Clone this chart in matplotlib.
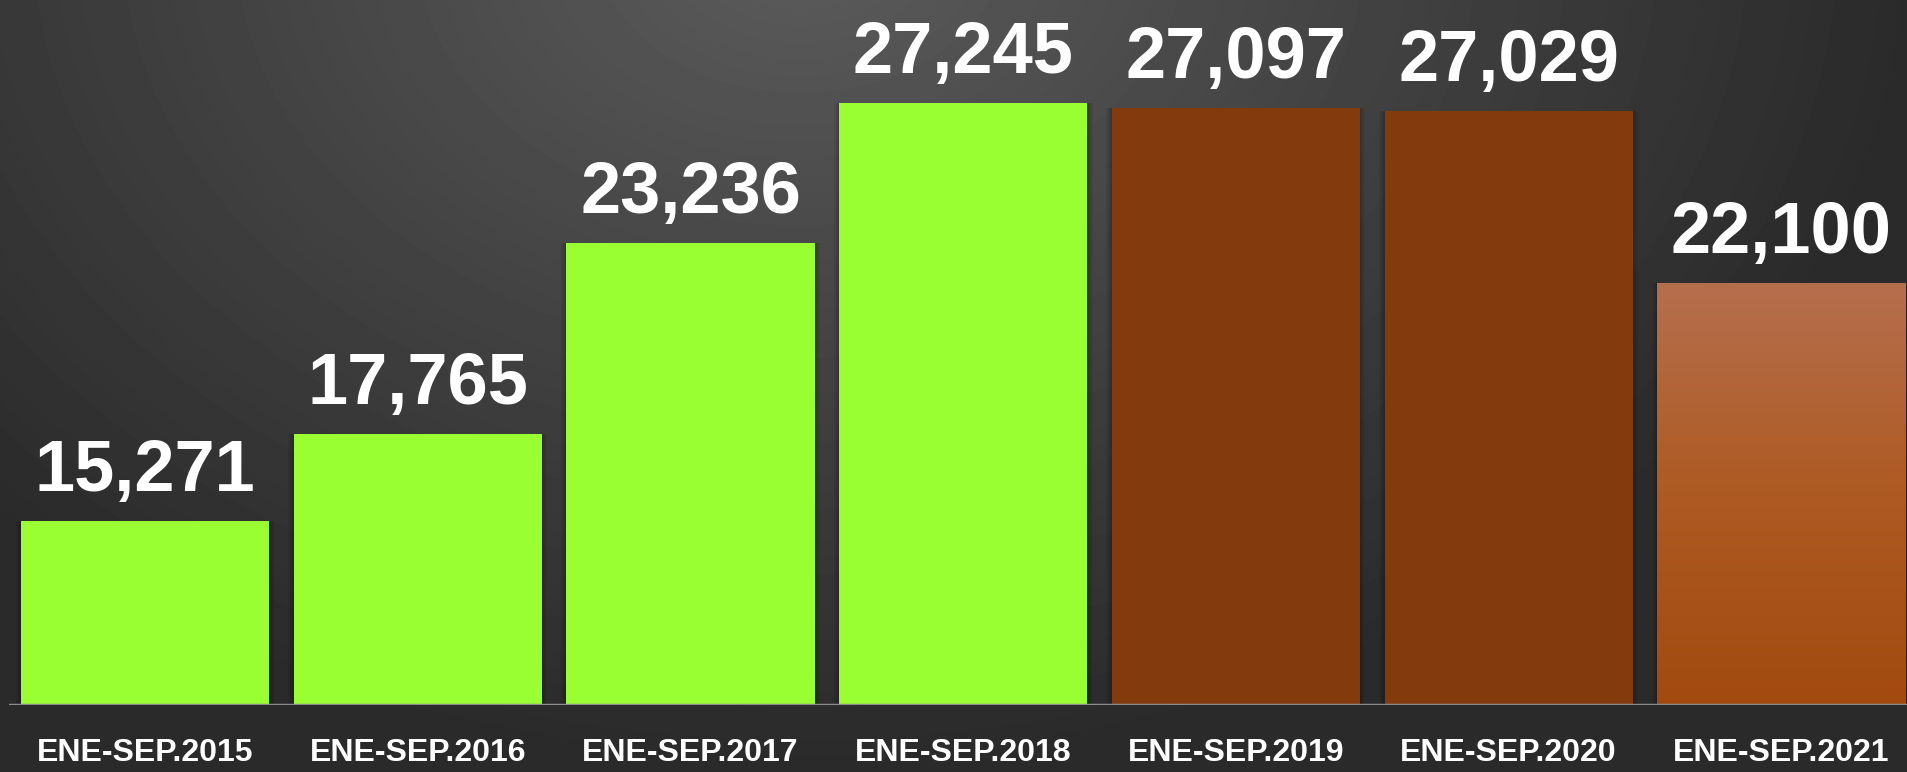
import numpy as np
import matplotlib
matplotlib.use("Agg")
import matplotlib.pyplot as plt
from matplotlib import font_manager as fm
from matplotlib.colors import LinearSegmentedColormap

# data
periods = ["ENE-SEP.2015", "ENE-SEP.2016", "ENE-SEP.2017", "ENE-SEP.2018",
           "ENE-SEP.2019", "ENE-SEP.2020", "ENE-SEP.2021"]
values = [15271, 17765, 23236, 27245, 27097, 27029, 22100]
bar_colors = ["#99FF33", "#99FF33", "#99FF33", "#99FF33",
              "#833A0D", "#833A0D", None]  # last one gets a gradient

# pick a narrow font if there is one
names = {f.name for f in fm.fontManager.ttflist}
if "Liberation Sans Narrow" in names:
    fam, val_size, tick_size = "Liberation Sans Narrow", 62, 27
else:
    fam, val_size, tick_size = "Liberation Sans", 52, 23

fig = plt.figure(figsize=(19.07, 7.72), dpi=100)

# dark radial background
bg = fig.add_axes([0, 0, 1, 1], zorder=-10)
yy, xx = np.mgrid[0:772, 0:1907]
r = np.sqrt(((xx - 800) / 1150.0) ** 2 + ((yy + 60) / 850.0) ** 2)
shade = np.clip(0.36 - 0.20 * r, 0.165, 0.36)
bg.imshow(shade, cmap="gray", vmin=0, vmax=1, aspect="auto", extent=[0, 1, 0, 1])
bg.axis("off")

ax = fig.add_axes([8.7 / 1907, 67 / 772, 1909 / 1907, 705 / 772])
ax.set_facecolor("none")
x = np.arange(len(values))

# soft shadow behind the bars
for w, a in [(0.95, 0.06), (0.935, 0.08), (0.92, 0.10)]:
    ax.bar(x, values, width=w, color="black", alpha=a, zorder=2, linewidth=0)

bars = ax.bar(x, values, width=0.91, color=[c if c else "none" for c in bar_colors],
              zorder=3, linewidth=0)

# gradient fill for the last bar
grad = LinearSegmentedColormap.from_list("g", ["#A24A10", "#AE5A22", "#B66F4E"])
b = bars[-1]
im = ax.imshow(np.linspace(0, 1, 256).reshape(-1, 1), cmap=grad, origin="lower",
               aspect="auto", zorder=3,
               extent=[b.get_x(), b.get_x() + b.get_width(), 10000, values[-1]])
im.set_clip_path(b)

ax.set_xlim(-0.5, len(values) - 0.5)
ax.set_ylim(10000, 30200)

for i, v in enumerate(values):
    ax.annotate(f"{v:,}", (i, v), xytext=(0, 21.6), textcoords="offset points",
                ha="center", va="baseline", color="white", fontsize=val_size,
                fontweight="bold", family=fam, zorder=5)

ax.axhline(10000, color="#8c8c8c", lw=2.5, zorder=4)

ax.set_xticks(x)
ax.set_xticklabels(periods, color="white", fontsize=tick_size,
                   fontweight="bold", family=fam)
ax.tick_params(axis="x", length=0, pad=24)
ax.set_yticks([])
for s in ax.spines.values():
    s.set_visible(False)

fig.savefig("out.png", dpi=100)
